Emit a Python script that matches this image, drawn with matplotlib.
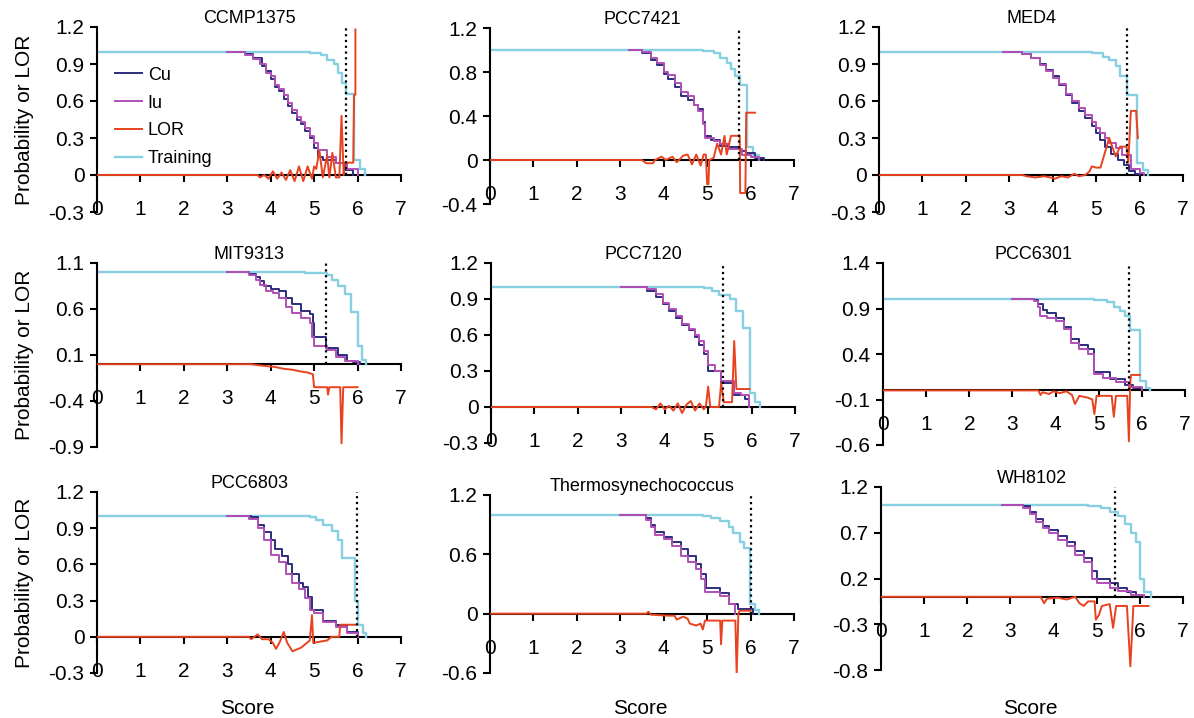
import matplotlib
matplotlib.use("Agg")
import matplotlib.pyplot as plt

plt.rcParams["font.family"] = ["Liberation Sans", "DejaVu Sans"]
plt.rcParams["font.size"] = 15

# ---- data (score, value) ----
TITLES = ["CCMP1375", "PCC7421", "MED4",
          "MIT9313", "PCC7120", "PCC6301",
          "PCC6803", "Thermosynechococcus", "WH8102"]

Y_TICKS = [
    [-0.3, 0, 0.3, 0.6, 0.9, 1.2],
    [-0.4, 0, 0.4, 0.8, 1.2],
    [-0.3, 0, 0.3, 0.6, 0.9, 1.2],
    [-0.9, -0.4, 0.1, 0.6, 1.1],
    [-0.3, 0, 0.3, 0.6, 0.9, 1.2],
    [-0.6, -0.1, 0.4, 0.9, 1.4],
    [-0.3, 0, 0.3, 0.6, 0.9, 1.2],
    [-0.6, 0, 0.6, 1.2],
    [-0.8, -0.3, 0.2, 0.7, 1.2],
]

CUTOFFS = [5.73, 5.74, 5.70, 5.27, 5.34, 5.71, 5.98, 6.0, 5.42]

ccmp1375_cu = [(3.0, 1.0), (3.4, 0.98), (3.6, 0.95), (3.8, 0.88), (3.9, 0.84), (4.0, 0.78),
               (4.1, 0.71), (4.2, 0.68), (4.3, 0.62), (4.4, 0.56), (4.5, 0.5), (4.6, 0.45),
               (4.7, 0.41), (4.8, 0.36), (4.9, 0.3), (5.0, 0.22), (5.1, 0.15), (5.2, 0.12),
               (5.5, 0.1), (5.7, 0.04), (5.9, 0.0)]
ccmp1375_iu = [(3.0, 1.0), (3.4, 0.97), (3.6, 0.94), (3.75, 0.9), (3.9, 0.83), (4.0, 0.8),
               (4.1, 0.73), (4.2, 0.7), (4.3, 0.65), (4.4, 0.58), (4.5, 0.53), (4.6, 0.47),
               (4.7, 0.43), (4.8, 0.38), (4.9, 0.32), (5.0, 0.26), (5.1, 0.2), (5.3, 0.15),
               (5.5, 0.1), (5.75, 0.05), (6.0, 0.0)]
ccmp1375_lor = [(0, 0), (3.7, 0), (3.75, -0.02), (3.85, 0.0), (3.95, -0.03), (4.05, 0.03),
                (4.15, -0.03), (4.25, 0.02), (4.35, -0.04), (4.45, 0.04), (4.55, -0.05),
                (4.65, 0.07), (4.75, -0.05), (4.85, 0.07), (4.95, -0.03), (5.0, 0.07),
                (5.05, 0.05), (5.12, 0.2), (5.2, -0.02), (5.3, 0.16), (5.35, -0.02),
                (5.42, 0.18), (5.5, -0.02), (5.58, -0.02), (5.63, 0.48), (5.68, 0.0),
                (5.7, 0.1), (5.9, 0.1), (5.92, 0.65), (5.95, 0.65), (5.95, 1.18)]
ccmp1375_train = [(0, 1.0), (4.9, 0.99), (5.15, 0.97), (5.3, 0.93), (5.45, 0.9), (5.55, 0.83),
                  (5.65, 0.75), (5.73, 0.66), (5.92, 0.12), (6.05, 0.05), (6.18, 0.0)]

pcc7421_cu = [(3.2, 1.0), (3.5, 0.97), (3.7, 0.91), (3.85, 0.86), (4.0, 0.78), (4.1, 0.74),
              (4.25, 0.66), (4.4, 0.58), (4.55, 0.55), (4.7, 0.5), (4.8, 0.46), (4.9, 0.35),
              (4.96, 0.22), (5.1, 0.18), (5.3, 0.13), (5.5, 0.12), (5.75, 0.08), (5.9, 0.06),
              (6.1, 0.02), (6.3, 0.0)]
pcc7421_iu = [(3.2, 1.0), (3.5, 0.98), (3.7, 0.93), (3.85, 0.88), (4.0, 0.8), (4.1, 0.77),
              (4.25, 0.7), (4.4, 0.62), (4.55, 0.58), (4.7, 0.5), (4.8, 0.45), (4.9, 0.33),
              (4.96, 0.2), (5.15, 0.17), (5.3, 0.15), (5.5, 0.1), (5.8, 0.05), (6.0, 0.03),
              (6.2, 0.0)]
pcc7421_lor = [(0, 0), (3.5, 0), (3.6, -0.03), (3.75, -0.03), (3.8, 0.0), (3.95, 0.03),
               (4.05, 0.0), (4.2, 0.03), (4.3, -0.02), (4.45, 0.04), (4.55, 0.05), (4.65, -0.04),
               (4.75, 0.05), (4.85, -0.05), (4.92, 0.05), (4.97, 0.05), (5.0, -0.22),
               (5.03, -0.22), (5.05, 0.0), (5.15, 0.02), (5.23, 0.15), (5.32, 0.05),
               (5.4, 0.22), (5.45, 0.05), (5.55, 0.22), (5.75, 0.22), (5.76, -0.3),
               (5.88, -0.3), (5.9, 0.43), (6.1, 0.43)]
pcc7421_train = [(0, 1.0), (4.9, 0.99), (5.15, 0.97), (5.3, 0.93), (5.45, 0.88), (5.55, 0.83),
                 (5.65, 0.76), (5.75, 0.68), (5.92, 0.12), (6.05, 0.05), (6.2, 0.0)]

med4_cu = [(2.85, 1.0), (3.3, 0.98), (3.5, 0.95), (3.7, 0.9), (3.85, 0.85), (4.0, 0.8),
           (4.15, 0.73), (4.3, 0.65), (4.45, 0.58), (4.6, 0.52), (4.75, 0.46), (4.9, 0.4),
           (5.0, 0.34), (5.1, 0.28), (5.2, 0.23), (5.35, 0.17), (5.5, 0.12), (5.65, 0.08),
           (5.75, 0.03), (5.9, 0.01), (6.0, 0.0)]
med4_iu = [(2.85, 1.0), (3.3, 0.98), (3.5, 0.95), (3.7, 0.89), (3.85, 0.84), (4.0, 0.79),
           (4.15, 0.74), (4.3, 0.66), (4.45, 0.6), (4.6, 0.54), (4.75, 0.49), (4.9, 0.43),
           (5.0, 0.38), (5.1, 0.34), (5.2, 0.3), (5.3, 0.26), (5.45, 0.22), (5.6, 0.16),
           (5.8, 0.05), (6.0, 0.02), (6.1, 0.0)]
med4_lor = [(0, 0), (3.3, 0), (3.4, -0.01), (3.6, -0.02), (3.8, -0.01), (3.95, -0.02),
            (4.05, -0.03), (4.2, -0.01), (4.35, -0.02), (4.5, 0.01), (4.6, -0.01), (4.75, 0.0),
            (4.85, 0.03), (4.9, 0.07), (5.0, 0.06), (5.1, 0.06), (5.15, 0.12), (5.3, 0.3),
            (5.45, 0.15), (5.55, 0.23), (5.7, 0.23), (5.74, 0.1), (5.8, 0.52), (5.92, 0.52),
            (5.96, 0.3)]
med4_train = [(0, 1.0), (4.9, 0.99), (5.15, 0.96), (5.3, 0.93), (5.45, 0.88), (5.55, 0.8),
              (5.7, 0.65), (5.93, 0.1), (6.08, 0.04), (6.2, 0.0)]

mit9313_cu = [(3.0, 1.0), (3.5, 0.98), (3.65, 0.95), (3.75, 0.9), (3.85, 0.85), (4.0, 0.82),
              (4.2, 0.8), (4.35, 0.72), (4.5, 0.65), (4.7, 0.58), (4.9, 0.55), (4.97, 0.45),
              (5.0, 0.3), (5.28, 0.18), (5.55, 0.1), (5.75, 0.04), (5.9, 0.02), (6.05, 0.0)]
mit9313_iu = [(3.0, 1.0), (3.5, 0.97), (3.65, 0.92), (3.75, 0.86), (3.9, 0.8), (4.05, 0.77),
              (4.2, 0.72), (4.35, 0.62), (4.5, 0.56), (4.7, 0.5), (4.9, 0.45), (4.95, 0.3),
              (5.0, 0.2), (5.3, 0.15), (5.5, 0.08), (5.7, 0.04), (6.0, 0.0)]
mit9313_lor = [(0, 0), (3.55, 0), (3.7, -0.01), (3.9, -0.02), (4.1, -0.03), (4.3, -0.05),
               (4.5, -0.06), (4.7, -0.08), (4.85, -0.09), (4.97, -0.11), (5.0, -0.25),
               (5.3, -0.25), (5.32, -0.33), (5.35, -0.25), (5.6, -0.25), (5.63, -0.86),
               (5.67, -0.25), (6.0, -0.25)]
mit9313_train = [(0, 1.0), (4.8, 0.99), (5.3, 0.97), (5.4, 0.92), (5.55, 0.85), (5.7, 0.76),
                 (5.85, 0.57), (6.0, 0.2), (6.1, 0.05), (6.2, 0.0)]

pcc7120_cu = [(3.0, 1.0), (3.6, 0.97), (3.8, 0.92), (3.95, 0.86), (4.1, 0.8), (4.25, 0.74),
              (4.4, 0.68), (4.55, 0.64), (4.7, 0.58), (4.8, 0.52), (4.9, 0.44), (5.0, 0.3),
              (5.3, 0.2), (5.6, 0.1), (5.85, 0.07), (5.95, 0.0)]
pcc7120_iu = [(3.0, 1.0), (3.6, 0.98), (3.8, 0.94), (3.95, 0.87), (4.1, 0.82), (4.25, 0.76),
              (4.4, 0.69), (4.55, 0.65), (4.7, 0.6), (4.8, 0.55), (4.9, 0.47), (5.0, 0.35),
              (5.15, 0.3), (5.3, 0.22), (5.6, 0.12), (5.75, 0.1), (5.95, 0.0)]
pcc7120_lor = [(0, 0), (3.7, 0), (3.8, -0.02), (3.9, 0.03), (4.0, -0.02), (4.1, 0.01),
               (4.2, -0.03), (4.3, 0.03), (4.4, -0.05), (4.5, 0.02), (4.6, 0.05),
               (4.7, -0.03), (4.8, 0.03), (4.9, -0.02), (4.95, 0.01), (5.0, 0.17),
               (5.05, 0.0), (5.25, 0.0), (5.3, 0.2), (5.36, 0.04), (5.55, 0.04),
               (5.6, 0.55), (5.65, 0.15), (5.95, 0.15)]
pcc7120_train = [(0, 1.0), (4.9, 0.99), (5.1, 0.97), (5.25, 0.93), (5.5, 0.9), (5.65, 0.8),
                 (5.8, 0.66), (5.97, 0.12), (6.08, 0.04), (6.2, 0.0)]

pcc6301_cu = [(3.0, 1.0), (3.5, 0.99), (3.6, 0.95), (3.7, 0.88), (3.8, 0.85), (4.0, 0.8),
              (4.2, 0.7), (4.35, 0.56), (4.55, 0.5), (4.75, 0.45), (4.9, 0.2), (5.25, 0.12),
              (5.6, 0.06), (5.8, 0.03), (6.0, 0.0)]
pcc6301_iu = [(3.0, 1.0), (3.5, 0.98), (3.6, 0.92), (3.65, 0.82), (3.8, 0.8), (4.0, 0.76),
              (4.2, 0.67), (4.35, 0.52), (4.55, 0.46), (4.75, 0.4), (4.9, 0.18), (5.1, 0.14),
              (5.4, 0.09), (5.7, 0.04), (6.0, 0.0)]
pcc6301_lor = [(0, 0), (3.6, 0), (3.65, -0.05), (3.7, -0.02), (3.85, -0.04), (3.95, -0.01),
               (4.1, -0.03), (4.25, -0.01), (4.38, -0.05), (4.45, -0.15), (4.55, -0.06),
               (4.75, -0.08), (4.85, -0.1), (4.9, -0.26), (4.95, -0.06), (5.3, -0.06),
               (5.35, -0.29), (5.4, -0.06), (5.66, -0.06), (5.7, -0.56), (5.73, 0.08),
               (5.75, 0.17), (5.95, 0.17)]
pcc6301_train = [(0, 1.0), (4.9, 0.99), (5.2, 0.97), (5.35, 0.92), (5.5, 0.87), (5.6, 0.82),
                 (5.72, 0.66), (5.95, 0.1), (6.1, 0.03), (6.2, 0.0)]

pcc6803_cu = [(3.0, 1.0), (3.55, 0.99), (3.7, 0.93), (3.85, 0.87), (4.0, 0.8), (4.1, 0.73),
              (4.25, 0.67), (4.4, 0.6), (4.5, 0.52), (4.65, 0.45), (4.75, 0.41), (4.85, 0.33),
              (4.95, 0.22), (5.2, 0.13), (5.5, 0.1), (5.75, 0.04), (6.0, 0.0)]
pcc6803_iu = [(3.0, 1.0), (3.5, 0.98), (3.7, 0.9), (3.85, 0.8), (4.0, 0.68), (4.2, 0.62),
              (4.35, 0.52), (4.5, 0.45), (4.65, 0.4), (4.8, 0.32), (4.9, 0.22), (5.0, 0.2),
              (5.2, 0.12), (5.5, 0.08), (5.75, 0.03), (6.0, 0.0)]
pcc6803_lor = [(0, 0), (3.5, 0), (3.55, -0.02), (3.7, 0.02), (3.8, -0.02), (3.95, -0.02),
               (4.05, -0.05), (4.12, -0.1), (4.2, -0.05), (4.3, 0.04), (4.38, -0.05),
               (4.5, -0.12), (4.7, -0.09), (4.8, -0.06), (4.9, -0.03), (4.95, 0.18),
               (4.98, -0.05), (5.3, -0.03), (5.4, 0.0), (5.58, 0.0), (5.6, 0.1), (5.95, 0.1)]
pcc6803_train = [(0, 1.0), (4.9, 0.99), (5.05, 0.97), (5.2, 0.93), (5.4, 0.88), (5.55, 0.8),
                 (5.65, 0.65), (5.95, 0.3), (6.02, 0.1), (6.12, 0.03), (6.2, 0.0)]

thermo_cu = [(3.0, 1.0), (3.6, 0.97), (3.7, 0.9), (3.8, 0.83), (4.0, 0.78), (4.2, 0.72),
             (4.4, 0.65), (4.55, 0.58), (4.75, 0.5), (4.85, 0.4), (4.97, 0.26), (5.3, 0.21),
             (5.5, 0.1), (5.7, 0.05), (6.05, 0.0)]
thermo_iu = [(3.0, 1.0), (3.6, 0.95), (3.7, 0.88), (3.8, 0.8), (4.0, 0.76), (4.2, 0.68),
             (4.4, 0.58), (4.55, 0.52), (4.75, 0.45), (4.85, 0.35), (4.95, 0.22),
             (5.3, 0.18), (5.5, 0.1), (5.65, 0.0)]
thermo_lor = [(0, 0), (3.6, 0), (3.65, 0.02), (3.7, -0.01), (4.1, -0.02), (4.25, -0.02),
              (4.3, -0.06), (4.45, -0.03), (4.55, -0.05), (4.6, -0.1), (4.75, -0.12),
              (4.85, -0.1), (4.9, -0.16), (4.95, -0.07), (5.3, -0.07), (5.32, -0.31),
              (5.35, -0.07), (5.65, -0.07), (5.68, -0.61), (5.72, 0.0), (5.75, 0.03),
              (6.0, 0.03)]
thermo_train = [(0, 1.0), (4.9, 0.99), (5.1, 0.97), (5.3, 0.94), (5.5, 0.88), (5.6, 0.82),
                (5.75, 0.72), (5.85, 0.66), (5.98, 0.1), (6.1, 0.04), (6.2, 0.0)]

wh8102_cu = [(2.8, 1.0), (3.3, 0.99), (3.45, 0.93), (3.6, 0.85), (3.75, 0.77), (3.9, 0.73),
             (4.1, 0.66), (4.3, 0.6), (4.5, 0.5), (4.7, 0.42), (4.9, 0.28), (5.0, 0.2),
             (5.3, 0.15), (5.5, 0.1), (5.7, 0.05), (5.9, 0.02), (6.1, 0.0)]
wh8102_iu = [(2.8, 1.0), (3.3, 0.97), (3.45, 0.9), (3.6, 0.82), (3.75, 0.75), (3.9, 0.7),
             (4.1, 0.62), (4.3, 0.55), (4.5, 0.46), (4.7, 0.38), (4.9, 0.2), (5.0, 0.15),
             (5.3, 0.1), (5.5, 0.06), (5.8, 0.02), (6.1, 0.0)]
wh8102_lor = [(0, 0), (3.7, 0), (3.78, -0.07), (3.85, -0.02), (4.1, -0.01), (4.3, -0.03),
              (4.5, 0.0), (4.6, -0.07), (4.7, -0.1), (4.8, -0.05), (4.95, -0.05),
              (4.98, -0.25), (5.05, -0.2), (5.12, -0.1), (5.3, -0.08), (5.38, -0.34),
              (5.45, -0.1), (5.7, -0.1), (5.78, -0.76), (5.85, -0.1), (6.2, -0.1)]
wh8102_train = [(0, 1.0), (4.8, 0.99), (5.1, 0.97), (5.3, 0.93), (5.5, 0.88), (5.65, 0.8),
                (5.8, 0.7), (5.9, 0.6), (6.0, 0.2), (6.1, 0.05), (6.25, 0.0)]

CU = [ccmp1375_cu, pcc7421_cu, med4_cu, mit9313_cu, pcc7120_cu, pcc6301_cu,
      pcc6803_cu, thermo_cu, wh8102_cu]
IU = [ccmp1375_iu, pcc7421_iu, med4_iu, mit9313_iu, pcc7120_iu, pcc6301_iu,
      pcc6803_iu, thermo_iu, wh8102_iu]
LOR = [ccmp1375_lor, pcc7421_lor, med4_lor, mit9313_lor, pcc7120_lor, pcc6301_lor,
       pcc6803_lor, thermo_lor, wh8102_lor]
TRAIN = [ccmp1375_train, pcc7421_train, med4_train, mit9313_train, pcc7120_train,
         pcc6301_train, pcc6803_train, thermo_train, wh8102_train]

# ---- layout (pixel boxes: left, right, top, bottom) ----
W, H = 1194, 718
BOXES = [(97, 401, 27, 212), (490, 794, 28, 204), (879, 1183, 27, 212),
         (97, 401, 263, 447), (491, 795, 263, 443), (883, 1185, 263, 445),
         (97, 401, 492, 673), (490, 794, 495, 673), (881, 1183, 487, 670)]

C_CU = "#2e2d7f"
C_IU = "#b24fb6"
C_LOR = "#e8421e"
C_TRAIN = "#88cfe2"


def split_xy(pts):
    return [p[0] for p in pts], [p[1] for p in pts]


fig = plt.figure(figsize=(W / 100, H / 100), dpi=100)

for i, (l, r, t, b) in enumerate(BOXES):
    ax = fig.add_axes([l / W, 1 - b / H, (r - l) / W, (b - t) / H])
    ticks = Y_TICKS[i]
    ax.set_xlim(0, 7)
    ax.set_ylim(ticks[0], ticks[-1])

    x, y = split_xy(CU[i])
    ax.plot(x, y, color=C_CU, lw=1.4, drawstyle="steps-post", label="Cu", zorder=3)
    x, y = split_xy(IU[i])
    ax.plot(x, y, color=C_IU, lw=1.4, drawstyle="steps-post", label="Iu", zorder=3)
    x, y = split_xy(LOR[i])
    ax.plot(x, y, color=C_LOR, lw=1.4, label="LOR", zorder=4)
    x, y = split_xy(TRAIN[i])
    ax.plot(x, y, color=C_TRAIN, lw=1.7, drawstyle="steps-post", label="Training", zorder=2)

    # score cutoff
    ax.plot([CUTOFFS[i], CUTOFFS[i]], [0, ticks[-1]], color="black", lw=1.6,
            linestyle=(0, (1, 1.6)), zorder=5)

    ax.spines["top"].set_visible(False)
    ax.spines["right"].set_visible(False)
    ax.spines["bottom"].set_position(("data", 0))
    ax.spines["left"].set_linewidth(1.5)
    ax.spines["bottom"].set_linewidth(1.5)
    ax.spines["bottom"].set_zorder(1)

    ax.set_xticks(range(8))
    ax.set_xticklabels([str(v) for v in range(8)])
    ax.set_yticks(ticks)
    ax.set_yticklabels([f"{v:g}" for v in ticks])
    ax.tick_params(axis="x", direction="out", length=5, width=1.5, pad=13, labelsize=15)
    ax.tick_params(axis="y", direction="out", length=5, width=1.5, pad=4, labelsize=15)
    ax.patch.set_visible(False)

    ax.set_title(TITLES[i], fontsize=13, pad=1)

    if i % 3 == 0:
        fig.text(25 / W, 1 - ((t + b) / 2) / H, "Probability or LOR", rotation=90,
                 ha="center", va="center", fontsize=15)
    if i >= 6:
        fig.text(((l + r) / 2 - 2) / W, 1 - 708 / H, "Score", ha="center", va="center",
                 fontsize=15)

    if i == 0:
        ax.legend(loc="upper left", bbox_to_anchor=(0.06, 0.785), frameon=False,
                  borderaxespad=0, borderpad=0, handlelength=1.5, handletextpad=0.3,
                  labelspacing=0.6, fontsize=13)

fig.savefig("out.png", dpi=100)
